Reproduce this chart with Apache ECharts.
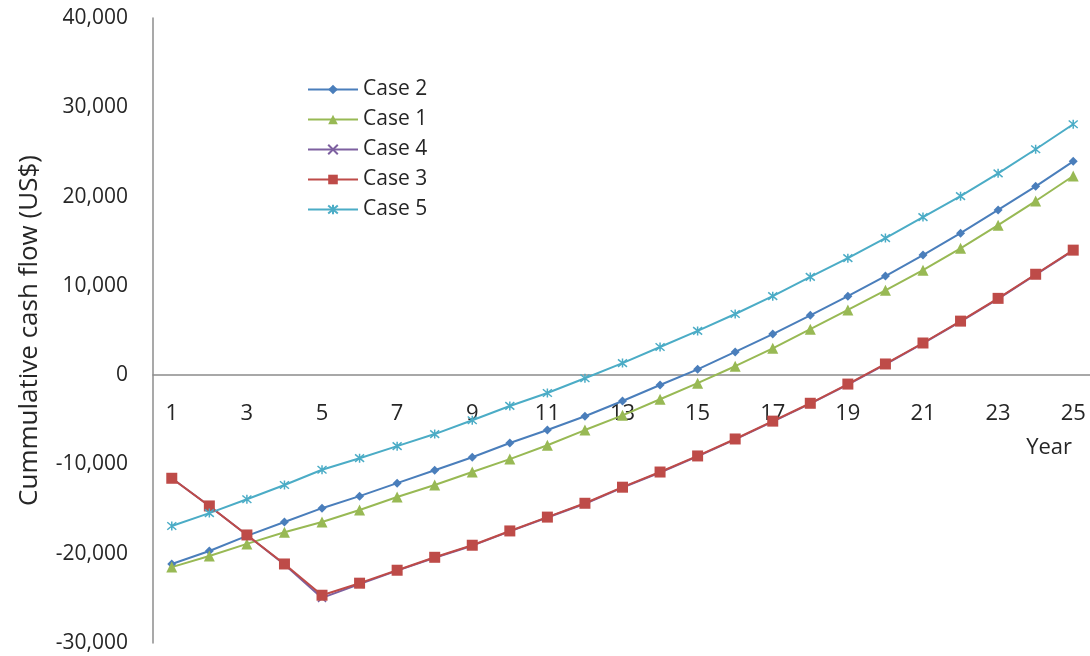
<!DOCTYPE html>
<html>
<head>
<meta charset="utf-8">
<script src="https://cdn.jsdelivr.net/npm/echarts@6/dist/echarts.min.js"></script>
<style>
  html, body { margin: 0; padding: 0; background: #ffffff; }
  #chart { width: 1090px; height: 656px; }
</style>
</head>
<body>
<div id="chart"></div>
<script>
// Project years 1..25
const years = ['1','2','3','4','5','6','7','8','9','10','11','12','13','14','15','16','17','18','19','20','21','22','23','24','25'];

// Cumulative cash flow per case (US$)
const case2 = [-21150,-19700,-18000,-16450,-14900,-13550,-12100,-10650,-9200,-7600,-6150,-4600,-2900,-1100,650,2600,4600,6700,8850,11100,13450,15900,18500,21150,23950];
const case1 = [-21500,-20250,-18900,-17600,-16450,-15100,-13650,-12300,-10850,-9400,-7850,-6150,-4500,-2700,-900,1000,3000,5150,7300,9500,11750,14200,16800,19500,22300];
const case4 = [-11550,-14650,-17900,-21200,-24950,-23400,-21900,-20450,-19100,-17500,-15950,-14400,-12600,-10900,-9100,-7200,-5200,-3200,-1050,1200,3550,6000,8550,11250,13950];
const case3 = [-11550,-14650,-17900,-21150,-24650,-23300,-21850,-20400,-19050,-17450,-15900,-14350,-12550,-10850,-9050,-7150,-5150,-3150,-1000,1250,3600,6050,8600,11300,14000];
const case5 = [-16900,-15450,-13900,-12300,-10600,-9300,-7950,-6600,-5050,-3450,-2000,-350,1350,3150,4950,6850,8850,11000,13100,15350,17700,20050,22600,25300,28100];

// Value axis range
const yMin = -30000, yMax = 40000, yStep = 10000;

const FONT = 'Open Sans';
const TEXT = '#262626';

// Plot box
const GRID_TOP = 18, GRID_H = 625;
// The category axis sits on the zero line: shift it up from the plot bottom
const zeroOffset = -GRID_H * (0 - yMin) / (yMax - yMin);

const xMarkPath = 'path://M-1,-1L1,1M-1,1L1,-1';
const starMarkPath = 'path://M-1,-1L1,1M-1,1L1,-1M0,-1.2L0,1.2';

function lineSeries(name, data, color, symbol, size, stroked) {
  return {
    name: name,
    type: 'line',
    data: data,
    symbol: symbol,
    symbolSize: size,
    showAllSymbol: true,
    lineStyle: { color: color, width: 2 },
    itemStyle: stroked
      ? { color: color, borderColor: color, borderWidth: 1.5 }
      : { color: color, borderWidth: 0 },
    emphasis: { disabled: true },
    animation: false
  };
}

const chart = echarts.init(document.getElementById('chart'), null, { renderer: 'canvas' });
chart.setOption({
  backgroundColor: '#ffffff',
  textStyle: { fontFamily: FONT },
  grid: { left: 153, top: GRID_TOP, width: 939, height: GRID_H, containLabel: false, outerBoundsMode: 'none' },
  legend: {
    orient: 'vertical',
    left: 302,
    top: 74,
    itemWidth: 50,
    itemHeight: 12,
    itemGap: 9,
    textStyle: { fontFamily: FONT, fontSize: 21, color: TEXT },
    data: ['Case 2', 'Case 1', 'Case 4', 'Case 3', 'Case 5']
  },
  xAxis: {
    type: 'category',
    data: years,
    boundaryGap: true,
    offset: zeroOffset,
    name: 'Year',
    nameLocation: 'end',
    nameGap: -20,
    nameMoveOverlap: false,
    nameTextStyle: {
      fontFamily: FONT, fontSize: 22, color: TEXT,
      align: 'right', verticalAlign: 'top', padding: [62, 0, 0, 0]
    },
    axisLine: { onZero: false, lineStyle: { color: '#8c8c8c', width: 1.5 } },
    axisTick: { show: false },
    axisLabel: {
      interval: 1,
      margin: 28,
      fontFamily: FONT, fontSize: 22, color: TEXT
    },
    splitLine: { show: false }
  },
  yAxis: {
    type: 'value',
    min: yMin,
    max: yMax,
    interval: yStep,
    name: 'Cummulative cash flow (US$)',
    nameLocation: 'middle',
    nameGap: 110,
    nameTextStyle: { fontFamily: FONT, fontSize: 26, color: TEXT },
    axisLine: { show: true, lineStyle: { color: '#8c8c8c', width: 1.5 } },
    axisTick: { show: false },
    splitLine: { show: false },
    axisLabel: {
      margin: 25,
      fontFamily: FONT, fontSize: 21, color: TEXT,
      formatter: function (v) { return v.toLocaleString('en-US'); }
    }
  },
  series: [
    lineSeries('Case 2', case2, '#4A7EBB', 'diamond', 9, false),
    lineSeries('Case 1', case1, '#98B954', 'triangle', 11, false),
    lineSeries('Case 4', case4, '#7D60A0', xMarkPath, 8, true),
    lineSeries('Case 3', case3, '#BE4B48', 'rect', 11, false),
    lineSeries('Case 5', case5, '#4BACC6', starMarkPath, 9, true)
  ]
});
</script>
</body>
</html>
